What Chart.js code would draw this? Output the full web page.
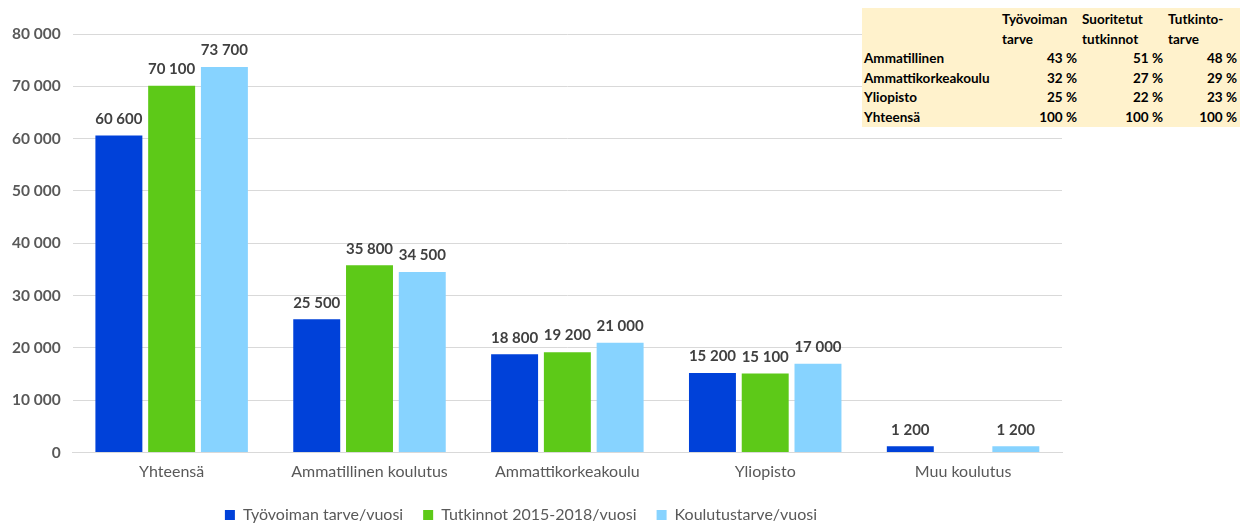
<!DOCTYPE html>
<html>
<head>
<meta charset="utf-8">
<script src="https://cdn.jsdelivr.net/npm/chart.js@4.4.1/dist/chart.umd.min.js"></script>
<style>
  html, body { margin: 0; padding: 0; background: #fff; }
  #wrap { position: relative; width: 1240px; height: 523px; overflow: hidden; }
  #koulutusChart { position: absolute; left: 0; top: 0; }
  #osuudet {
    position: absolute; left: 862px; top: 8px; width: 378px; height: 118px;
    background: #fff2cc; border-collapse: collapse;
    font-family: Lato, "Liberation Sans", sans-serif; font-weight: bold; font-size: 13.5px; color: #000;
  }
  #osuudet td, #osuudet th { padding: 0 3px 0 2px; line-height: 19.5px; font-weight: bold; white-space: nowrap; }
  #osuudet th { text-align: left; vertical-align: top; line-height: 20px; padding-top: 1px; }
  #osuudet td.num { text-align: right; }
</style>
</head>
<body>
<div id="wrap">
  <canvas id="koulutusChart" width="1240" height="523"></canvas>
  <table id="osuudet"></table>
</div>
<script>
// kategoriat ja sarjat
const categories = ['Yhteensä', 'Ammatillinen koulutus', 'Ammattikorkeakoulu', 'Yliopisto', 'Muu koulutus'];
const tyovoimanTarve = [60600, 25500, 18800, 15200, 1200];
const tutkinnot = [70100, 35800, 19200, 15100, null];
const koulutustarve = [73700, 34500, 21000, 17000, 1200];
const yTicks = [0, 10000, 20000, 30000, 40000, 50000, 60000, 70000, 80000];

// taulukko oikeassa yläkulmassa
const tableHeaders = ['', 'Työvoiman<br>tarve', 'Suoritetut<br>tutkinnot', 'Tutkinto-<br>tarve'];
const tableRows = ['Ammatillinen', 'Ammattikorkeakoulu', 'Yliopisto', 'Yhteensä'];
const shareTyovoima = ['43 %', '32 %', '25 %', '100 %'];
const shareTutkinnot = ['51 %', '27 %', '22 %', '100 %'];
const shareTarve = ['48 %', '29 %', '23 %', '100 %'];

function fmt(v) {
  return String(v).replace(/\B(?=(\d{3})+(?!\d))/g, ' ');
}

function buildTable() {
  const t = document.getElementById('osuudet');
  let html = '<colgroup><col style="width:138px"><col style="width:80px"><col style="width:86px"><col style="width:74px"></colgroup>';
  html += '<tr>' + tableHeaders.map(h => '<th>' + h + '</th>').join('') + '</tr>';
  tableRows.forEach((r, i) => {
    html += '<tr><td>' + r + '</td><td class="num">' + shareTyovoima[i] + '</td><td class="num">' +
      shareTutkinnot[i] + '</td><td class="num">' + shareTarve[i] + '</td></tr>';
  });
  t.innerHTML = html;
}

const valueLabels = {
  id: 'valueLabels',
  afterDatasetsDraw(chart) {
    const ctx = chart.ctx;
    ctx.save();
    ctx.font = 'bold 15px Lato, "Liberation Sans", sans-serif';
    ctx.fillStyle = '#404040';
    ctx.textAlign = 'center';
    ctx.textBaseline = 'bottom';
    chart.data.datasets.forEach((ds, i) => {
      const meta = chart.getDatasetMeta(i);
      meta.data.forEach((bar, j) => {
        const v = ds.data[j];
        if (v === null || v === undefined) return;
        ctx.fillText(fmt(v), bar.x, bar.y - 9);
      });
    });
    ctx.restore();
  }
};

// selite lähemmäs alareunaa
const tightLegend = {
  id: 'tightLegend',
  afterInit(chart) {
    const legend = chart.legend;
    const fit = legend.fit;
    legend.fit = function () {
      fit.call(this);
      this.height -= 10;
    };
  }
};

document.addEventListener('DOMContentLoaded', function () {
  buildTable();
  const ctx = document.getElementById('koulutusChart').getContext('2d');
  new Chart(ctx, {
    type: 'bar',
    data: {
      labels: categories,
      datasets: [
        { label: 'Työvoiman tarve/vuosi', data: tyovoimanTarve, backgroundColor: '#0041d9' },
        { label: 'Tutkinnot 2015-2018/vuosi', data: tutkinnot, backgroundColor: '#5dc918' },
        { label: 'Koulutustarve/vuosi', data: koulutustarve, backgroundColor: '#87d3ff' }
      ]
    },
    options: {
      responsive: false,
      animation: false,
      layout: { padding: { top: 34, right: 178, left: 0, bottom: 0 } },
      datasets: { bar: { categoryPercentage: 0.8, barPercentage: 0.89 } },
      scales: {
        x: {
          grid: { display: false, drawTicks: false },
          border: { color: '#d9d9d9' },
          ticks: { color: '#595959', padding: 10, font: { family: 'Lato', size: 16 } }
        },
        y: {
          min: 0, max: 80000,
          afterBuildTicks: axis => { axis.ticks = yTicks.map(v => ({ value: v })); },
          grid: { color: '#d9d9d9', drawTicks: false },
          border: { display: false },
          ticks: {
            color: '#595959', padding: 12,
            font: { family: 'Lato', size: 15.5, weight: 'bold' },
            callback: v => fmt(v)
          }
        }
      },
      plugins: {
        legend: {
          position: 'bottom',
          title: { display: true, text: ' ', font: { size: 1 }, padding: { top: 14, bottom: 0 } },
          labels: {
            color: '#595959', boxWidth: 10, boxHeight: 10, padding: 0,
            font: { family: 'Lato', size: 16 },
            generateLabels: chart => Chart.defaults.plugins.legend.labels.generateLabels(chart)
              .map(l => Object.assign(l, { text: l.text + '\u2003\u2002' }))
          }
        },
        tooltip: { enabled: false }
      }
    },
    plugins: [valueLabels, tightLegend]
  });
});
</script>
</body>
</html>
